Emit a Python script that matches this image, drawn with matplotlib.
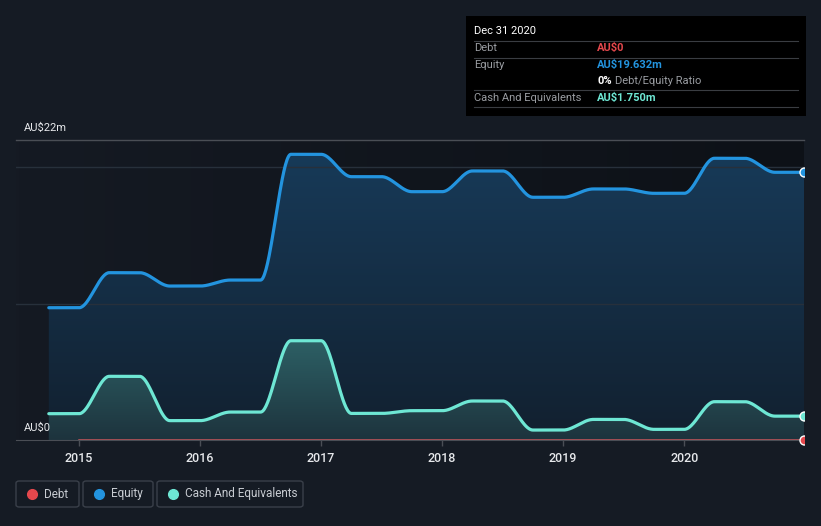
import matplotlib.pyplot as plt
import numpy as np
from matplotlib.colors import LinearSegmentedColormap
from matplotlib.patches import Polygon, FancyBboxPatch, Rectangle
from matplotlib.lines import Line2D
import matplotlib.transforms as mtransforms

plt.rcParams['font.family'] = ['Roboto', 'DejaVu Sans']

# %% data (AU$ millions)
dates = [2014.75, 2015.0, 2015.25, 2015.5, 2015.75, 2016.0, 2016.25, 2016.5,
         2016.75, 2017.0, 2017.25, 2017.5, 2017.75, 2018.0, 2018.25, 2018.5,
         2018.75, 2019.0, 2019.25, 2019.5, 2019.75, 2020.0, 2020.25, 2020.5,
         2020.75, 2020.99]
equity = [9.70, 9.70, 12.27, 12.27, 11.29, 11.29, 11.73, 11.73,
          20.95, 20.95, 19.31, 19.31, 18.21, 18.21, 19.73, 19.73,
          17.80, 17.80, 18.41, 18.41, 18.09, 18.09, 20.66, 20.66,
          19.632, 19.632]
cash = [1.93, 1.93, 4.67, 4.67, 1.42, 1.42, 2.05, 2.05,
        7.28, 7.28, 1.95, 1.95, 2.15, 2.15, 2.86, 2.86,
        0.73, 0.73, 1.51, 1.51, 0.78, 0.78, 2.81, 2.81,
        1.75, 1.75]
debt_dates = [2015.0, 2020.99]
debt = [0, 0]
years = [2015, 2016, 2017, 2018, 2019, 2020]

# %% colours
bg = '#151b24'
c_debt = '#e5484d'
c_eq = '#2394df'
c_cash = '#6ee7d4'
txt = '#c8ccd2'


def smooth(xs, ys, n=40):
    # monotone curve through points (all slopes flat -> smoothstep)
    out_x, out_y = [], []
    for i in range(len(xs) - 1):
        s = np.linspace(0, 1, n)
        out_x.append(xs[i] + (xs[i + 1] - xs[i]) * s)
        out_y.append(ys[i] + (ys[i + 1] - ys[i]) * (3 * s**2 - 2 * s**3))
    return np.concatenate(out_x), np.concatenate(out_y)


def px(x, y):
    return x / 821, 1 - y / 526


fig = plt.figure(figsize=(8.21, 5.26), dpi=100, facecolor=bg)
ax = fig.add_axes([16 / 821, 1 - 440 / 526, (804 - 16) / 821, 300 / 526])
ax.set_facecolor(bg)

x0, x1 = 2014.479, 2020.99
ymax = 22

# plot-area background gradient (darker to the right)
bgmap = LinearSegmentedColormap.from_list('bgm', ['#151a23', '#0d1117'])
ax.imshow(np.linspace(0, 1, 256).reshape(1, -1), extent=[x0, x1, 0, ymax],
          aspect='auto', cmap=bgmap, zorder=0)


def grad_fill(xs, ys, colors, z):
    verts = np.column_stack([np.r_[xs, xs[::-1]], np.r_[ys, np.zeros_like(ys)]])
    patch = Polygon(verts, closed=True, facecolor='none', edgecolor='none')
    ax.add_patch(patch)
    cmap = LinearSegmentedColormap.from_list('g', colors)
    im = ax.imshow(np.linspace(0, 1, 256).reshape(-1, 1), extent=[x0, x1, 0, max(ys)],
                   origin='lower', aspect='auto', cmap=cmap, zorder=z)
    im.set_clip_path(patch)


ex, ey = smooth(dates, equity)
cx, cy = smooth(dates, cash)

grad_fill(ex, ey, ['#12202f', '#173a58'], 1)
grad_fill(cx, cy, ['#1d333d', '#2d6065'], 2)

# gridlines
for g in [10, 20]:
    ax.axhline(g, color='#27303b', lw=1, zorder=1.5)
ax.axhline(22, color='#4a4e55', lw=1, zorder=1.5, clip_on=False)

ax.plot(ex, ey, color=c_eq, lw=2.3, zorder=4, solid_capstyle='round')
ax.plot(cx, cy, color=c_cash, lw=2.3, zorder=4, solid_capstyle='round')
ax.plot(debt_dates, debt, color='#c9575c', lw=1.8, zorder=5)

# end markers, clipped only at the right edge
clip = Rectangle((x0, -3), x1 - x0, ymax + 6, transform=ax.transData,
                 facecolor='none', edgecolor='none')
for xv, yv, col in [(dates[-1], equity[-1], c_eq), (dates[-1], cash[-1], c_cash),
                    (debt_dates[-1], debt[-1], c_debt)]:
    sc = ax.scatter([xv], [yv], s=42, color=col, edgecolor='white', lw=1, zorder=6)
    sc.set_clip_path(clip)

ax.set_xlim(x0, x1)
ax.set_ylim(0, ymax)
for s in ['top', 'right', 'left']:
    ax.spines[s].set_visible(False)
ax.spines['bottom'].set_color('#4a4e55')
ax.set_yticks([])
ax.set_xticks(years, [str(y) for y in years])
ax.tick_params(axis='x', colors='#4a4e55', length=4, width=1, labelcolor='#e6e8eb',
               labelsize=9, pad=5)
for lab in ax.get_xticklabels():
    lab.set_fontweight('medium')

trans = mtransforms.blended_transform_factory(ax.transAxes, ax.transData)
ax.annotate('AU\\$22m', xy=(0, 22), xycoords=trans, xytext=(6, 9), textcoords='offset points',
            color='#e6e8eb', fontsize=8, va='center', ha='left')
ax.annotate('AU\\$0', xy=(0, 0), xycoords=trans, xytext=(6, 9), textcoords='offset points',
            color='#e6e8eb', fontsize=8, va='center', ha='left', zorder=7)

# %% legend boxes
legend = [('Debt', c_debt, 16, 79), ('Equity', c_eq, 83, 153),
          ('Cash And Equivalents', c_cash, 157, 303)]
for name, col, lx0, lx1 in legend:
    bx, by = px(lx0, 507)
    bw = (lx1 - lx0) / 821
    bh = 26 / 526
    fig.patches.append(FancyBboxPatch((bx, by), bw, bh, boxstyle='round,pad=0,rounding_size=0.004',
                                      transform=fig.transFigure, facecolor='none',
                                      edgecolor='#3a404a', lw=1))
    dx, dy = px(lx0 + 16, 494)
    fig.lines.append(Line2D([dx], [dy], marker='o', ms=7, color=col, mec=col,
                            transform=fig.transFigure))
    tx, ty = px(lx0 + 28, 494)
    fig.text(tx, ty, name, color=txt, fontsize=8.5, va='center', ha='left')

# %% tooltip
tx0, ty0 = px(466, 116)
fig.patches.append(Rectangle((tx0, ty0), 340 / 821, 100 / 526, transform=fig.transFigure,
                             facecolor='black', edgecolor='none'))
for ly in [41, 58, 90, 107]:
    a, b = px(474, ly)
    c, _ = px(798, ly)
    fig.lines.append(Line2D([a, c], [b, b], color='#3a3d42', lw=0.8, transform=fig.transFigure))
fig.text(*px(474, 31), 'Dec 31 2020', color='white', fontsize=8, va='center')
fig.text(*px(474, 48), 'Debt', color='#9a9da2', fontsize=8, va='center')
fig.text(*px(474, 65), 'Equity', color='#9a9da2', fontsize=8, va='center')
fig.text(*px(474, 98), 'Cash And Equivalents', color='#9a9da2', fontsize=8, va='center')
fig.text(*px(597, 48), 'AU\\$0', color=c_debt, fontsize=8, va='center', fontweight='bold')
fig.text(*px(597, 65), 'AU\\$19.632m', color=c_eq, fontsize=8, va='center', fontweight='bold')
fig.text(*px(597, 81), '0%', color='white', fontsize=8, va='center', fontweight='bold')
fig.text(*px(615, 81), 'Debt/Equity Ratio', color='#9a9da2', fontsize=8, va='center')
fig.text(*px(597, 98), 'AU\\$1.750m', color=c_cash, fontsize=8, va='center', fontweight='bold')

fig.savefig('out.png', dpi=100, facecolor=bg)
plt.close()
